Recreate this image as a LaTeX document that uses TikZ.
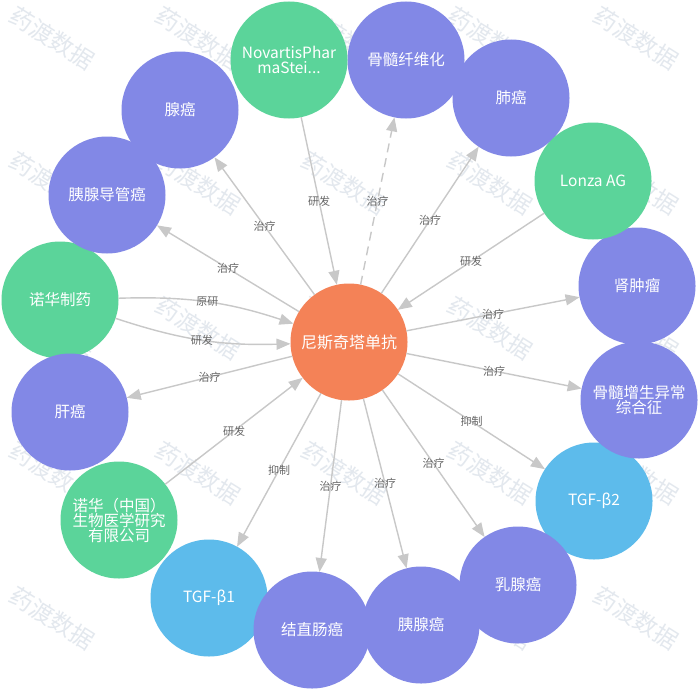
\documentclass[tikz,border=0pt]{standalone}
\usepackage{fontspec}
\setmainfont{Noto Sans CJK SC}
\usetikzlibrary{arrows.meta}
\definecolor{cpurple}{HTML}{8288E6}
\definecolor{cgreen}{HTML}{5BD49A}
\definecolor{cblue}{HTML}{5DBBEB}
\definecolor{corange}{HTML}{F48257}
\definecolor{cedge}{HTML}{C8C8C8}
\definecolor{clabel}{HTML}{666666}
\definecolor{cwm}{HTML}{E3E8EE}
\begin{document}
\begin{tikzpicture}[x=1pt,y=1pt,
 ent/.style={circle, minimum size=117pt, inner sep=0pt, outer sep=0pt, text=white,
   font=\fontsize{15.5}{16}\selectfont, align=center},
 dis/.style={ent, fill=cpurple},
 org/.style={ent, fill=cgreen},
 tgt/.style={ent, fill=cblue},
 drug/.style={ent, fill=corange, font=\fontsize{16}{17}\selectfont},
 rel/.style={draw=cedge, line width=1.4pt, -{Triangle[length=14pt,width=11pt]}},
 lbl/.style={font=\fontsize{11}{12}\selectfont, text=clabel, inner sep=1pt},
 wm/.style={font=\fontsize{23.5}{24}\selectfont, text=cwm, rotate=-32, inner sep=0pt}
]
\useasboundingbox (0,0) rectangle (700,-693);
\fill[white] (0,0) rectangle (700,-693);
% watermarks
\foreach \i in {0,...,4}{
  \foreach \j in {0,...,4}{
    \node[wm] (wm\i\j) at ({52+146*\i},{-38-145*\j}) {药渡数据};
  }
}
% nodes
\node[dis] (gxw) at (406,-60) {骨髓纤维化};
\node[org] (nov) at (289,-60) {NovartisPhar\\[-1pt]maStei...};
\node[dis] (fei) at (511,-98) {肺癌};
\node[dis] (shen) at (637,-286) {肾肿瘤};
\node[org] (lonza) at (593,-181) {Lonza AG};
\node[tgt] (tgf2) at (594,-501) {TGF-β2};
\node[dis] (gsz) at (639,-400) {骨髓增生异常\\[-1pt]综合征};
\node[dis] (yi) at (421,-625) {胰腺癌};
\node[dis] (ru) at (518,-585) {乳腺癌};
\node[org] (nhzg) at (119,-520) {诺华（中国）\\[-1pt]生物医学研究\\[-1pt]有限公司};
\node[tgt] (tgf1) at (209,-598) {TGF-β1};
\node[dis] (jz) at (312,-630) {结直肠癌};
\node[org] (nhzy) at (60,-300) {诺华制药};
\node[dis] (gan) at (70,-412) {肝癌};
\node[dis] (xian) at (180,-110) {腺癌};
\node[dis] (ydg) at (107,-195) {胰腺导管癌};
\node[drug] (c) at (349,-342) {尼斯奇塔单抗};
% edges
\draw[rel] (nov) -- node[lbl]{研发} (c);
\draw[rel, dash pattern=on 9pt off 6pt] (c) -- node[lbl]{治疗} (gxw);
\draw[rel] (c) -- node[lbl]{治疗} (fei);
\draw[rel] (lonza) -- node[lbl]{研发} (c);
\draw[rel] (c) -- node[lbl]{治疗} (shen);
\draw[rel] (c) -- node[lbl]{治疗} (gsz);
\draw[rel] (c) -- node[lbl]{抑制} (tgf2);
\draw[rel] (c) -- node[lbl]{治疗} (ru);
\draw[rel] (c) -- node[lbl]{治疗} (yi);
\draw[rel] (c) -- node[lbl]{治疗} (jz);
\draw[rel] (c) -- node[lbl]{抑制} (tgf1);
\draw[rel] (nhzg) -- node[lbl]{研发} (c);
\draw[rel] (c) -- node[lbl]{治疗} (gan);
\draw[rel] (nhzy) to[bend left=10] node[lbl]{原研} (c);
\draw[rel] (nhzy) to[bend right=10] node[lbl]{研发} (c);
\draw[rel] (c) -- node[lbl]{治疗} (ydg);
\draw[rel] (c) -- node[lbl]{治疗} (xian);
\end{tikzpicture}
\end{document}
